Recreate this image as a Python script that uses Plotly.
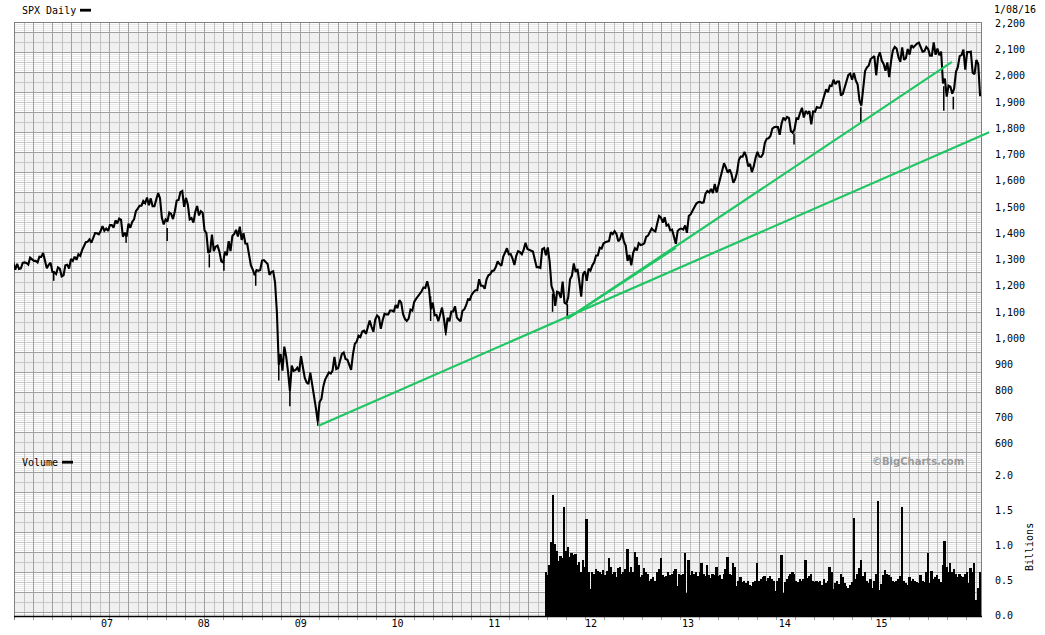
import pandas as pd
import plotly.graph_objects as go

# ---------------- data (weekly closes) ----------------
closes_2006 = [1285, 1287, 1261, 1284, 1264, 1266, 1287, 1289, 1287, 1281, 1307, 1302, 1295,
               1295, 1289, 1311, 1310, 1325, 1291, 1267, 1280, 1288, 1253, 1252, 1245, 1270,
               1265, 1236, 1240, 1278, 1280, 1266, 1302, 1295, 1311, 1299, 1320, 1314, 1336,
               1349, 1366, 1368, 1377, 1364, 1380, 1401, 1400, 1396, 1409, 1427, 1410, 1418]
closes_2007 = [1409, 1431, 1431, 1422, 1449, 1438, 1456, 1451, 1387, 1402, 1387, 1437, 1421,
               1443, 1453, 1484, 1494, 1505, 1505, 1523, 1515, 1536, 1507, 1533, 1503, 1503,
               1530, 1553, 1534, 1459, 1434, 1453, 1445, 1479, 1474, 1454, 1484, 1525, 1527,
               1557, 1561, 1501, 1535, 1509, 1453, 1458, 1441, 1481, 1504, 1468, 1484, 1478]
closes_2008 = [1411, 1401, 1325, 1331, 1395, 1332, 1349, 1353, 1331, 1294, 1288, 1330, 1316,
               1370, 1332, 1390, 1398, 1413, 1388, 1425, 1375, 1400, 1361, 1360, 1318, 1278,
               1262, 1240, 1260, 1257, 1260, 1296, 1298, 1292, 1283, 1242, 1252, 1255, 1213,
               1099, 899, 940, 877, 968, 930, 873, 800, 896, 876, 879, 888, 873]
closes_2009 = [932, 890, 850, 832, 826, 869, 827, 770, 735, 683, 757, 769, 816,
               843, 857, 870, 866, 877, 929, 883, 887, 919, 940, 946, 921, 918,
               897, 880, 940, 979, 987, 1010, 1005, 1026, 1029, 1017, 1042, 1068, 1044,
               1025, 1071, 1087, 1080, 1036, 1069, 1093, 1091, 1091, 1106, 1106, 1102, 1127, 1115]
closes_2010 = [1145, 1136, 1092, 1074, 1066, 1075, 1109, 1105, 1139, 1150, 1160, 1167,
               1179, 1194, 1192, 1217, 1187, 1111, 1136, 1088, 1089, 1065, 1092, 1117, 1076,
               1022, 1078, 1065, 1102, 1102, 1122, 1079, 1071, 1065, 1105, 1110, 1126, 1149,
               1147, 1166, 1176, 1183, 1183, 1225, 1200, 1200, 1189, 1225, 1240, 1244, 1257, 1258]
closes_2011 = [1272, 1293, 1283, 1276, 1311, 1329, 1343, 1320, 1321, 1304, 1279, 1314,
               1332, 1328, 1320, 1338, 1364, 1340, 1338, 1333, 1331, 1300, 1271, 1271, 1268,
               1340, 1344, 1316, 1346, 1292, 1199, 1179, 1124, 1177, 1174, 1154, 1216, 1136, 1131,
               1155, 1225, 1238, 1285, 1253, 1264, 1216, 1159, 1244, 1255, 1219, 1265, 1258]
closes_2012 = [1278, 1289, 1315, 1316, 1345, 1342, 1361, 1366, 1370, 1371, 1404, 1397, 1408,
               1398, 1370, 1378, 1403, 1369, 1353, 1295, 1318, 1278, 1325, 1343, 1335, 1362,
               1355, 1357, 1362, 1386, 1391, 1405, 1418, 1411, 1407, 1438, 1466, 1460, 1441,
               1461, 1429, 1433, 1411, 1414, 1380, 1360, 1409, 1416, 1418, 1414, 1430, 1402]
closes_2013 = [1466, 1472, 1486, 1503, 1513, 1518, 1520, 1516, 1518, 1551, 1561, 1556, 1569,
               1553, 1588, 1555, 1582, 1614, 1633, 1667, 1650, 1631, 1643, 1626, 1592, 1606,
               1632, 1680, 1692, 1692, 1710, 1691, 1655, 1664, 1633, 1655, 1688, 1710, 1692,
               1691, 1703, 1745, 1760, 1762, 1771, 1798, 1804, 1806, 1805, 1775, 1818, 1841]
closes_2014 = [1832, 1843, 1839, 1790, 1783, 1797, 1838, 1836, 1859, 1878, 1841, 1866, 1857,
               1865, 1815, 1864, 1863, 1881, 1878, 1878, 1900, 1924, 1949, 1937, 1963, 1961,
               1985, 1968, 1978, 1978, 1925, 1931, 1955, 1988, 2003, 2008, 1985, 2011, 1982,
               1967, 1906, 1886, 1964, 2018, 2032, 2039, 2064, 2068, 2075, 2002, 2071, 2089]
closes_2015 = [2058, 2045, 2019, 2051, 1995, 2055, 2097, 2110, 2104, 2071, 2053, 2108, 2061,
               2067, 2102, 2081, 2117, 2108, 2116, 2123, 2126, 2107, 2092, 2094, 2110, 2102,
               2077, 2077, 2127, 2080, 2104, 2078, 2092, 1971, 1989, 1921, 1962, 1958, 1932,
               1951, 2015, 2033, 2075, 2079, 2100, 2023, 2090, 2090, 2092, 2012, 2006, 2061, 2044]
closes_2016 = [1922]

# notable daily extremes (intraday wicks)
wick_dates = ['2006-06-14', '2007-03-14', '2007-08-16', '2008-01-22', '2008-03-17', '2008-07-15',
              '2008-10-10', '2008-11-21', '2009-03-06', '2010-05-06', '2010-07-02', '2011-08-09',
              '2011-10-04', '2014-02-05', '2014-10-15', '2015-08-24', '2015-09-29']
wick_lows = [1219, 1364, 1371, 1270, 1257, 1200, 839, 741, 667, 1066, 1011, 1101, 1075,
             1738, 1821, 1867, 1872]
wick_highs = [1255, 1400, 1420, 1320, 1300, 1245, 936, 800, 700, 1160, 1040, 1170, 1130,
              1780, 1880, 1960, 1920]

# weekly volume (billions), starting mid-July 2011
vol_2011 = [0.62, 0.58, 0.72, 1.05, 1.72, 1.02, 0.92, 0.78, 0.85, 0.82, 1.55, 0.92,
            0.98, 0.84, 0.90, 0.86, 0.88, 0.72, 0.76, 0.62, 0.80, 0.70, 1.38, 0.62, 0.38]
vol_2012 = [0.62, 0.60, 0.66, 0.64, 0.62, 0.60, 0.65, 0.58, 0.64, 0.82, 0.70, 0.60, 0.62,
            0.55, 0.68, 0.70, 0.60, 0.62, 0.66, 0.95, 0.62, 0.70, 0.62, 0.91, 0.84, 0.72,
            0.55, 0.58, 0.68, 0.62, 0.60, 0.50, 0.52, 0.55, 0.50, 0.62, 0.66, 0.82, 0.58,
            0.55, 0.56, 0.62, 0.58, 0.60, 0.64, 0.66, 0.42, 0.60, 0.58, 0.60, 0.89, 0.32]
vol_2013 = [0.79, 0.58, 0.64, 0.60, 0.62, 0.56, 0.62, 0.75, 0.60, 0.56, 0.72, 0.58, 0.54,
            0.60, 0.58, 0.70, 0.56, 0.58, 0.52, 0.60, 0.66, 0.84, 0.60, 0.58, 0.75, 0.70,
            0.42, 0.50, 0.55, 0.48, 0.50, 0.46, 0.50, 0.44, 0.42, 0.48, 0.50, 0.75, 0.50,
            0.52, 0.55, 0.56, 0.50, 0.54, 0.56, 0.52, 0.50, 0.35, 0.50, 0.54, 0.86, 0.32]
vol_2014 = [0.48, 0.52, 0.56, 0.60, 0.62, 0.60, 0.50, 0.48, 0.52, 0.50, 0.52, 0.80, 0.54,
            0.56, 0.60, 0.50, 0.48, 0.50, 0.48, 0.50, 0.44, 0.52, 0.46, 0.50, 0.70, 0.62,
            0.38, 0.46, 0.50, 0.45, 0.60, 0.55, 0.46, 0.42, 0.40, 0.44, 0.48, 1.39, 0.52,
            0.60, 0.68, 0.79, 0.56, 0.62, 0.50, 0.46, 0.52, 0.40, 0.50, 0.60, 1.63, 0.36]
vol_2015 = [0.45, 0.58, 0.65, 0.60, 0.58, 0.55, 0.50, 0.48, 0.50, 0.52, 0.56, 1.55, 0.50,
            0.46, 0.44, 0.55, 0.50, 0.52, 0.50, 0.48, 0.46, 0.58, 0.50, 0.48, 0.62, 0.90,
            0.46, 0.63, 0.52, 0.55, 0.58, 0.52, 0.48, 0.72, 1.06, 0.70, 0.62, 0.75, 0.62,
            0.66, 0.60, 0.55, 0.60, 0.56, 0.55, 0.60, 0.62, 0.46, 0.68, 0.62, 0.75, 0.22]
vol_2016 = [0.40, 0.62]

# trendlines (start / end points)
trend_x0 = ['2009-03-09', '2011-10-04', '2011-10-04']
trend_y0 = [667, 1075, 1075]
trend_x1 = ['2016-02-11', '2015-09-24', '2012-11-16']
trend_y1 = [1785, 2053, 1345]

price_ticks = [600, 700, 800, 900, 1000, 1100, 1200, 1300, 1400, 1500, 1600, 1700, 1800,
               1900, 2000, 2100, 2200]
vol_ticks = [0.0, 0.5, 1.0, 1.5, 2.0]
year_ticks = ['2007-01-01', '2008-01-01', '2009-01-01', '2010-01-01', '2011-01-01',
              '2012-01-01', '2013-01-01', '2014-01-01', '2015-01-01']
year_labels = ['07', '08', '09', '10', '11', '12', '13', '14', '15']

closes = (closes_2006 + closes_2007 + closes_2008 + closes_2009 + closes_2010 + closes_2011 +
          closes_2012 + closes_2013 + closes_2014 + closes_2015 + closes_2016)
price_dates = pd.date_range(end='2016-01-08', periods=len(closes), freq='W-FRI')
volumes = vol_2011 + vol_2012 + vol_2013 + vol_2014 + vol_2015 + vol_2016
vol_dates = pd.date_range(end='2016-01-08', periods=len(volumes), freq='W-FRI')

# ---------------- geometry helpers (pixel -> paper) ----------------
W, H = 1045, 635
L, R, T, B = 14, 992, 22, 616
GRID_R = 981


def px(x):
    return (x - L) / (R - L)


def py(y):
    return (B - y) / (B - T)


def hpath(ys, x0=L, x1=GRID_R):
    return ''.join(f'M{px(x0):.6f},{py(y):.6f}L{px(x1):.6f},{py(y):.6f}' for y in ys)


def vpath(xs, y0=T, y1=B):
    return ''.join(f'M{px(x):.6f},{py(y0):.6f}L{px(x):.6f},{py(y1):.6f}' for x in xs)


shapes = []
# gray bands
for yb in range(32, 612, 40):
    shapes.append(dict(type='rect', xref='paper', yref='paper', layer='below',
                       x0=px(L), x1=px(GRID_R), y0=py(yb), y1=py(yb + 20),
                       fillcolor='#f0f0f0', line=dict(width=0)))
# fine lines in white bands
fine = []
white_bands = [(22, 32)] + [(s, s + 20) for s in range(52, 612, 40)] + [(612, 616)]
for s, e in white_bands:
    for y in range(s + 2, e, 2):
        if y - s != 10:
            fine.append(y + 0.5)
shapes.append(dict(type='path', xref='paper', yref='paper', layer='below',
                   path=hpath(fine), line=dict(color='#e8e8e8', width=1)))
# light horizontal mid lines
shapes.append(dict(type='path', xref='paper', yref='paper', layer='below',
                   path=hpath([y + 0.5 for y in range(42, 612, 20)]),
                   line=dict(color='#c8c8c8', width=1)))
# vertical lines
vx_light, vx_dark = [], []
k = 1
while 14 + 9.52 * k < GRID_R - 2:
    xv = int(round(14 + 9.52 * k)) + 0.5
    (vx_dark if k % 2 == 0 else vx_light).append(xv)
    k += 1
shapes.append(dict(type='path', xref='paper', yref='paper', layer='below',
                   path=vpath(vx_light), line=dict(color='#c2c2c2', width=1)))
shapes.append(dict(type='path', xref='paper', yref='paper', layer='below',
                   path=vpath(vx_dark, T, 620), line=dict(color='#a0a0a0', width=1)))
# dark horizontal lines
shapes.append(dict(type='path', xref='paper', yref='paper', layer='below',
                   path=hpath([y + 0.5 for y in range(32, 613, 20)]),
                   line=dict(color='#a0a0a0', width=1)))
# borders
shapes.append(dict(type='path', xref='paper', yref='paper', layer='below',
                   path=vpath([14.5], T, 620) + vpath([GRID_R + 0.5], T, B) + hpath([22.5], 14, GRID_R + 1),
                   line=dict(color='#808080', width=1)))
shapes.append(dict(type='path', xref='paper', yref='paper', layer='below',
                   path=hpath([616.5], 14, GRID_R + 1), line=dict(color='black', width=1.5)))
# legend swatches
shapes.append(dict(type='rect', xref='paper', yref='paper', x0=px(80), x1=px(91),
                   y0=py(8.8), y1=py(11.6), fillcolor='black', line=dict(width=0)))
shapes.append(dict(type='rect', xref='paper', yref='paper', x0=px(62), x1=px(73),
                   y0=py(460.8), y1=py(463.6), fillcolor='black', line=dict(width=0)))

fig = go.Figure()

# volume bars
fig.add_trace(go.Bar(x=vol_dates, y=volumes, xaxis='x', yaxis='y2',
                     width=7 * 86400000, marker=dict(color='black', line=dict(width=0)),
                     hoverinfo='skip'))

# wicks
wx, wy = [], []
for d, lo, hi in zip(wick_dates, wick_lows, wick_highs):
    wx += [d, d, None]
    wy += [lo, hi, None]
fig.add_trace(go.Scatter(x=wx, y=wy, mode='lines', xaxis='x', yaxis='y',
                         line=dict(color='black', width=1.5), hoverinfo='skip'))

# price line
fig.add_trace(go.Scatter(x=price_dates, y=closes, mode='lines', xaxis='x', yaxis='y',
                         line=dict(color='black', width=2.1), hoverinfo='skip'))

# trendlines
for a, b, c, d in zip(trend_x0, trend_y0, trend_x1, trend_y1):
    fig.add_trace(go.Scatter(x=[a, c], y=[b, d], mode='lines', xaxis='x', yaxis='y',
                             line=dict(color='#1fc663', width=2.2), hoverinfo='skip'))

mono = dict(family='DejaVu Sans Mono', size=10, color='black')

annotations = [
    dict(text='SPX Daily', x=px(20), y=py(10), xref='paper', yref='paper',
         xanchor='left', yanchor='middle', showarrow=False, font=mono),
    dict(text='1/08/16', x=px(992), y=py(9.5), xref='paper', yref='paper',
         xanchor='left', yanchor='middle', showarrow=False, font=mono),
    dict(text='Volume', x=px(20), y=py(462.3), xref='paper', yref='paper',
         xanchor='left', yanchor='middle', showarrow=False, font=mono),
    dict(text='<b>©BigCharts.com</b>', x=px(870), y=py(461.5), xref='paper', yref='paper',
         xanchor='left', yanchor='middle', showarrow=False,
         font=dict(family='DejaVu Sans', size=10, color='#9a9a9a')),
    dict(text='Billions', x=px(1029), y=py(547), xref='paper', yref='paper',
         xanchor='center', yanchor='middle', showarrow=False, textangle=-90, font=mono),
]

fig.update_layout(
    width=W, height=H,
    margin=dict(l=L, r=W - R, t=T, b=H - B, autoexpand=False),
    paper_bgcolor='white', plot_bgcolor='white',
    showlegend=False, bargap=0,
    shapes=shapes, annotations=annotations,
    xaxis=dict(type='date', domain=[0, 1], anchor='y2', automargin=False,
               range=['2006-01-15 03:00', '2016-02-21 22:00'],
               showgrid=False, zeroline=False, showline=False, ticks='',
               tickvals=year_ticks, ticktext=year_labels, tickfont=mono, fixedrange=True),
    yaxis=dict(domain=[py(452), 1], anchor='x', side='right', automargin=False,
               range=[566.86, 2204.95], showgrid=False, zeroline=False, showline=False,
               ticks='', tickvals=price_ticks, tickformat=',', tickfont=mono,
               ticklabelstandoff=2, fixedrange=True),
    yaxis2=dict(domain=[0, py(454)], anchor='x', side='right', automargin=False,
                range=[-0.00714, 2.307], showgrid=False, zeroline=False, showline=False,
                ticks='', tickvals=vol_ticks, ticktext=['0.0', '0.5', '1.0', '1.5', '2.0'],
                tickfont=mono, ticklabelstandoff=2, fixedrange=True),
)

fig.write_html('out.html', config={'displayModeBar': False},
               post_script="document.body.style.margin='0';document.body.style.overflow='hidden';")
